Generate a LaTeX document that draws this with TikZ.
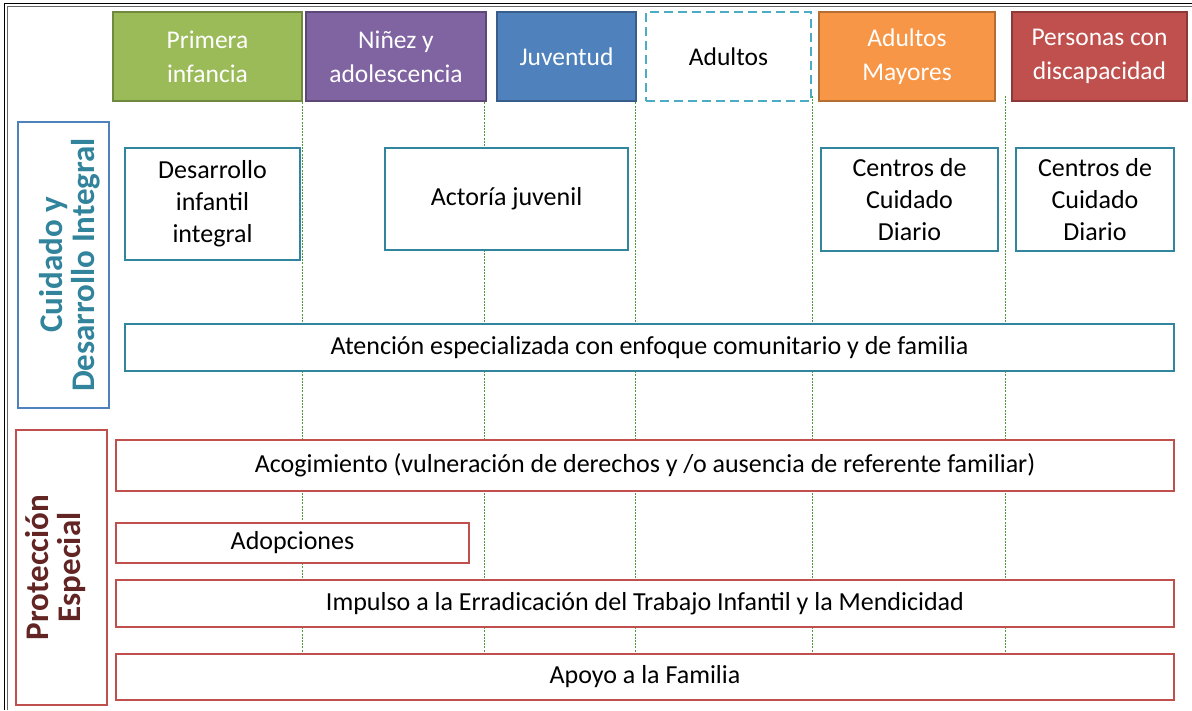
\documentclass[tikz,border=0pt]{standalone}
\usepackage{fontspec}
\setmainfont{Carlito}
\definecolor{gfill}{HTML}{9BBB59}\definecolor{gdraw}{HTML}{71893F}
\definecolor{pfill}{HTML}{8064A2}\definecolor{pdraw}{HTML}{5C4776}
\definecolor{bfill}{HTML}{4F81BD}\definecolor{bdraw}{HTML}{385D8A}
\definecolor{adraw}{HTML}{4BACC6}
\definecolor{ofill}{HTML}{F79646}\definecolor{odraw}{HTML}{B66D31}
\definecolor{rfill}{HTML}{C0504D}\definecolor{rdraw}{HTML}{8C3836}
\definecolor{teal}{HTML}{31859C}
\definecolor{tealtxt}{HTML}{31849B}
\definecolor{redtxt}{HTML}{632523}
\definecolor{guide}{HTML}{4E9A3A}
\tikzset{
  hdr/.style={draw, line width=2.5pt, inner sep=0pt, outer sep=0pt, align=center,
    text=white, font=\fontsize{25.5}{34}\selectfont},
  tbox/.style={draw=teal, fill=white, line width=2.2pt, inner sep=0pt, outer sep=0pt, align=center,
    font=\fontsize{26}{32}\selectfont},
  rbox/.style={draw=rfill, fill=white, line width=2.4pt, inner sep=0pt, outer sep=0pt, align=center,
    font=\fontsize{26}{32}\selectfont},
  sect/.style={fill=white, line width=2.4pt, inner sep=0pt, outer sep=0pt},
  secttxt/.style={rotate=90, align=center, font=\bfseries\fontsize{33}{32}\selectfont},
  guideline/.style={draw=guide, line width=0.8pt, dash pattern=on 2pt off 1.2pt},
  frame/.style={draw=black, line width=1pt}
}
\begin{document}
\begin{tikzpicture}[x=1pt,y=-1pt]
\useasboundingbox (0,0) rectangle (1192,710);
% outer frame
\draw[frame] (4,3.5) -- (1192,3.5);
\draw[frame, black!60] (6.5,6.5) -- (1192,6.5);
\draw[frame] (4.5,3.5) -- (4.5,710);
\draw[frame, black!60] (7,6.5) -- (7,710);
% guide lines
\foreach \gx/\gn in {302/g1,484/g2,635/g3,812/g4,1005/g5}{
  \coordinate (\gn t) at (\gx,96);
  \coordinate (\gn b) at (\gx,653);
  \draw[guideline] (\gn t) -- (\gn b);
}
% headers
\node[hdr, fill=gfill, draw=gdraw, minimum width=189pt, minimum height=89pt] (h1) at (207.5,56.5) {Primera\\infancia};
\node[hdr, fill=pfill, draw=pdraw, minimum width=180pt, minimum height=89pt] (h2) at (396,56.5) {Niñez y\\adolescencia};
\node[hdr, fill=bfill, draw=bdraw, minimum width=139pt, minimum height=89pt] (h3) at (566.5,56.5) {Juventud};
\node[hdr, fill=white, draw=adraw, text=black, dash pattern=on 9pt off 5pt, minimum width=165pt, minimum height=89pt] (h4) at (728.5,56.5) {Adultos};
\node[hdr, fill=ofill, draw=odraw, minimum width=176pt, minimum height=89pt] (h5) at (907,56.5) {Adultos\\Mayores};
\node[hdr, fill=rfill, draw=rdraw, minimum width=175pt, minimum height=89pt] (h6) at (1099.5,56.5) {Personas con\\discapacidad};
% section boxes
\node[sect, draw=bfill, minimum width=91pt, minimum height=286pt] (s1) at (63.5,265) {};
\node[secttxt, text=tealtxt] (s1t) at (70,265) {Cuidado y\\Desarrollo Integral};
\node[sect, draw=rfill, minimum width=91pt, minimum height=275pt] (s2) at (61.5,567.5) {};
\node[secttxt, text=redtxt] (s2t) at (56,567.5) {Protección\\Especial};
% teal boxes
\node[tbox, minimum width=175pt, minimum height=112pt] (b1) at (212.5,204) {Desarrollo\\infantil\\integral};
\node[tbox, minimum width=243pt, minimum height=102pt] (b2) at (506.5,199) {Actoría juvenil};
\node[tbox, minimum width=177pt, minimum height=103pt] (b3) at (909.5,199.5) {Centros de\\Cuidado\\Diario};
\node[tbox, minimum width=158pt, minimum height=103pt] (b4) at (1095,199.5) {Centros de\\Cuidado\\Diario};
\node[tbox, minimum width=1049pt, minimum height=47pt] (b5) at (649.5,347.5) {Atención especializada con enfoque comunitario y de familia};
% red boxes
\node[rbox, minimum width=1058pt, minimum height=51pt] (r1) at (645,465.5) {Acogimiento (vulneración de derechos y /o ausencia de referente familiar)};
\node[rbox, minimum width=353pt, minimum height=40pt] (r2) at (292.5,543) {Adopciones};
\node[rbox, minimum width=1058pt, minimum height=47pt] (r3) at (645,603.5) {Impulso a la Erradicación del Trabajo Infantil y la Mendicidad};
\node[rbox, minimum width=1058pt, minimum height=46pt] (r4) at (645,677) {Apoyo a la Familia};
\end{tikzpicture}
\end{document}
